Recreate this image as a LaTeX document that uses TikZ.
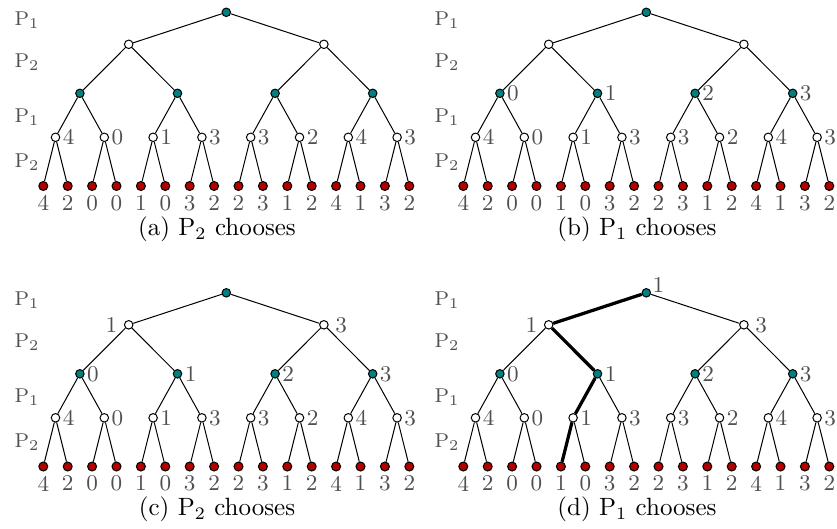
\documentclass[tikz,border=0pt]{standalone}
\usetikzlibrary{positioning}
\definecolor{Teal}{HTML}{008080}
\definecolor{Crimson}{HTML}{B00000}
\definecolor{Ink}{HTML}{505050}
\tikzset{
  p1node/.style={circle,draw=black,fill=Teal,minimum size=3.4pt,inner sep=0pt},
  p2node/.style={circle,draw=black,fill=white,minimum size=3.4pt,inner sep=0pt},
  leafnode/.style={circle,draw=black,fill=Crimson,minimum size=3.6pt,inner sep=0pt},
  val/.style={font=\small,text=Ink,inner sep=0.5pt},
  player/.style={font=\footnotesize,text=Ink},
  caption/.style={font=\normalsize},
  edge/.style={draw=black,line width=0.4pt},
  bestline/.style={draw=black,line width=1.3pt}
}
% #1 name, #2/#3 shift, #4 highest level without values, #5 caption
\newcommand{\gametree}[5]{%
\begin{scope}[shift={(#2,#3)}]
  % players
  \node[player] (#1-pa) at (27,20) {P$_1$};
  \node[player] (#1-pb) at (27,62) {P$_2$};
  \node[player] (#1-pc) at (27,117) {P$_1$};
  \node[player] (#1-pd) at (27,162) {P$_2$};
  % nodes, from the leaves up
  \foreach \v [count=\k from 0] in {4,2,0,0,1,0,3,2,2,3,1,2,4,1,3,2}{
    \node[leafnode] (#1-4-\k) at ({43.3+24.4*\k},186) {};
    \node[val,below=1pt of #1-4-\k] (#1-v4-\k) {\v};}
  \foreach \v [count=\k from 0] in {4,0,1,3,3,2,4,3}{
    \node[p2node] (#1-3-\k) at ({55.5+48.8*\k},137.3) {};
    \node[val,right=0.3pt of #1-3-\k] (#1-v3-\k) {\v};}
  \foreach \v [count=\k from 0] in {0,1,2,3}{
    \node[p1node] (#1-2-\k) at ({79.9+97.6*\k},93.3) {};
    \ifnum#4<3 \node[val,right=0.3pt of #1-2-\k] (#1-v2-\k) {\v};\fi}
  \node[p2node] (#1-1-0) at (128.7,44.3) {};
  \node[p2node] (#1-1-1) at (323.9,44.3) {};
  \node[p1node] (#1-0-0) at (226.3,12.3) {};
  \ifnum#4<2
    \node[val,left=2pt of #1-1-0] (#1-v1-0) {1};
    \node[val,right=2pt of #1-1-1] (#1-v1-1) {3};
  \fi
  \ifnum#4<1
    \node[val,above right=-2pt and 0.5pt of #1-0-0] (#1-v0-0) {1};
  \fi
  % edges: every child to its parent
  \foreach \d in {1,2,3,4}{
    \pgfmathtruncatemacro{\upl}{\d-1}
    \pgfmathtruncatemacro{\lst}{2^\d-1}
    \foreach \c in {0,...,\lst}{
      \pgfmathtruncatemacro{\prt}{floor(\c/2)}
      \draw[edge] (#1-\upl-\prt) -- (#1-\d-\c);}}
  \node[caption] (#1-cap) at (217,229) {(#1) #5};
\end{scope}}

\begin{document}
\begin{tikzpicture}[x=0.4pt,y=-0.4pt]
  \useasboundingbox (0,0) rectangle (837,528);
  \gametree{a}{0}{0}{3}{P$_2$ chooses}
  \gametree{b}{420}{0}{2}{P$_1$ chooses}
  \gametree{c}{0}{280.5}{1}{P$_2$ chooses}
  \gametree{d}{420}{280.5}{0}{P$_1$ chooses}
  \draw[bestline] (d-0-0) -- (d-1-0) (d-1-0) -- (d-2-1) (d-2-1) -- (d-3-2) (d-3-2) -- (d-4-4);
\end{tikzpicture}
\end{document}
